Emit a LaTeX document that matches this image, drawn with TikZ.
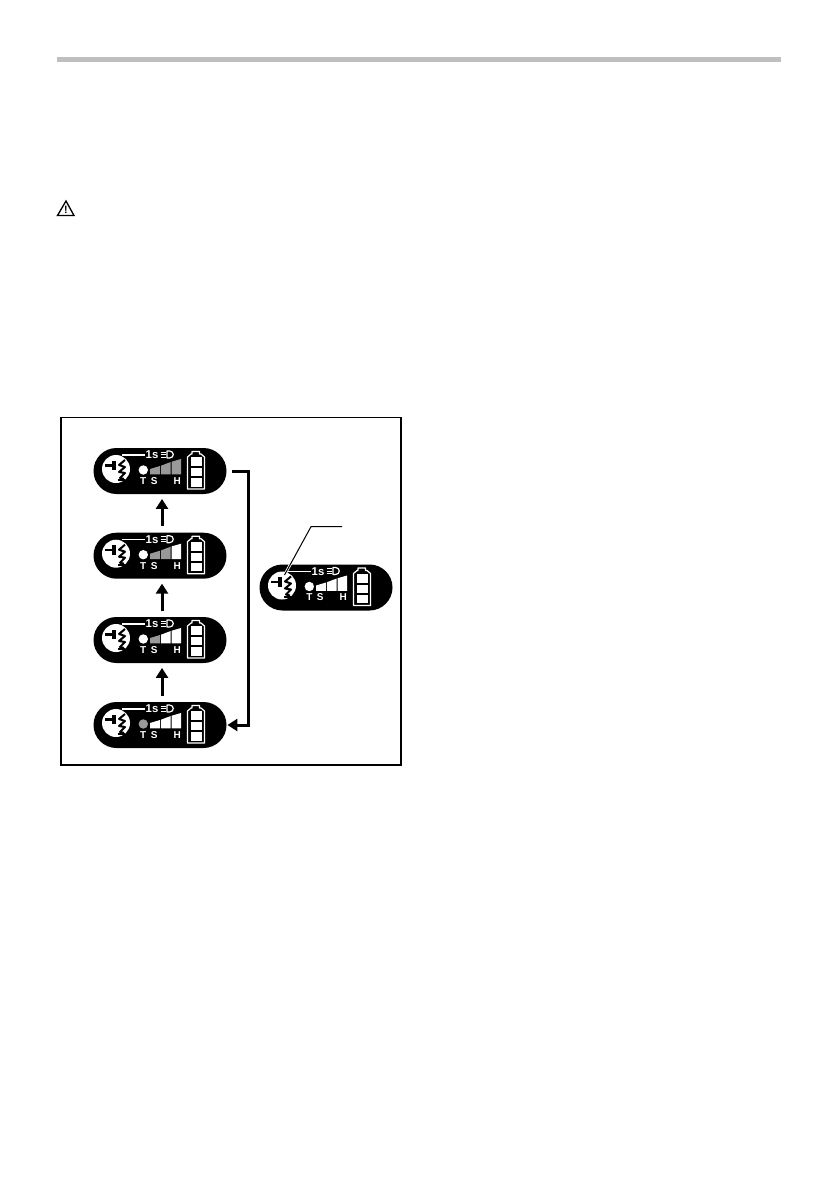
\documentclass[tikz,border=0pt]{standalone}
\usepackage{fontspec}
\setsansfont{Liberation Sans}
\usetikzlibrary{arrows.meta,shapes.misc}
\definecolor{ledgray}{gray}{0.6}
\tikzset{
  lamppill/.style={rounded rectangle,fill=black,draw=none,inner sep=0pt,minimum width=99.75pt,minimum height=34.5pt},
  tag/.style={text=white,inner sep=0pt,font=\sffamily\bfseries\fontsize{7.5}{8}\selectfont},
  flow/.style={line width=2.25pt,-{Triangle[width=9pt,length=7.5pt]}},
  wht/.style={draw=white,line width=0.9pt}
}
\begin{document}
\begin{tikzpicture}[x=0.75pt,y=-0.75pt]
    \useasboundingbox (0,0) rectangle (839,1191);
    \fill[white] (0,0) rectangle (839,1191);
    \fill[gray!50] (57,57) rectangle (781,62);
    % warning sign
    \draw[line width=1pt,line join=miter] (66,201) -- (74,215.5) -- (57.5,215.5) -- cycle;
    \node[inner sep=0pt,font=\sffamily\bfseries\fontsize{8}{8}\selectfont] (warn) at (65.8,210) {!};
    % frame
    \draw[line width=1.2pt] (61,417.5) rectangle (401,765);
    \def\pills{160/471/white/ledgray/ledgray/ledgray, 160/555.7/white/ledgray/ledgray/white,
               160/640/white/ledgray/white/white, 160/725/ledgray/white/white/white,
               326/587.5/white/white/white/white}
    \foreach \px/\py/\dotcol/\barA/\barB/\barC [count=\i from 1] in \pills {
      \node[lamppill] (p\i) at (\px,\py) {};
      \begin{scope}[shift={(\px,\py)}]
        % drill symbol
        \fill[white] (-44,-2) circle[radius=14];
        \fill[black] (-55,-7) rectangle (-47,-4.3);
        \fill[black] (-48,-10.3) rectangle (-44,-1);
        \draw[black,line width=1.5pt,line join=round] (-35,-11) -- (-41,-6) -- (-35,-4) -- (-41,1) -- (-35,2) -- (-40,7) -- (-36,8);
        \draw[black,line width=1.5pt] (-42,9) -- (-35,9);
        % speed bars
        \fill[\dotcol] (-16.7,-1) circle[radius=4.7];
        \fill[\barA] (-10,3.3) -- (-10,-2) -- (0,-5) -- (0,3.3) -- cycle;
        \fill[\barB] (1,3.3) -- (1,-5.3) -- (10.7,-9) -- (10.7,3.3) -- cycle;
        \fill[\barC] (11.7,3.3) -- (11.7,-9.3) -- (21,-12) -- (21,3.3) -- cycle;
        \node[tag] (t\i) at (-16.7,10) {T};
        \node[tag] (s\i) at (-5.7,10) {S};
        \node[tag] (h\i) at (17.3,10) {H};
        % time and light
        \draw[wht] (-38,-16) -- (-15,-16);
        \node[tag,font=\sffamily\bfseries\fontsize{8.5}{9}\selectfont] (one\i) at (-8,-16) {1s};
        \foreach \y in {-19,-16.5,-14} {\draw[wht,line width=0.7pt] (0.5,\y) -- (5.5,\y);}
        \draw[wht,line join=round] (7,-20) -- (9.5,-20) .. controls (14.5,-20) and (14.5,-13) .. (9.5,-13) -- (7,-13) -- cycle;
        % battery
        \draw[wht,line join=round] (27.5,18) -- (27.5,-14) -- (31,-17) -- (32,-17) -- (32,-19.5) -- (39.5,-19.5) -- (39.5,-17) -- (41,-17) -- (44.5,-14) -- (44.5,18) -- cycle;
        \fill[white] (30.5,-14) rectangle (41.5,-5);
        \fill[white] (30.5,-3) rectangle (41.5,5);
        \fill[white] (30.5,7) rectangle (41.5,15.5);
      \end{scope}
    }
    % connectors
    \draw[flow,shorten <=5pt,shorten >=3.5pt] ([xshift=1.5pt]p2.north) -- ([xshift=1.5pt]p1.south);
    \draw[flow,shorten <=4pt,shorten >=3.5pt] ([xshift=1.5pt]p3.north) -- ([xshift=1.5pt]p2.south);
    \draw[flow,shorten <=4pt,shorten >=3.5pt] ([xshift=1.5pt]p4.north) -- ([xshift=1.5pt]p3.south);
    \draw[flow,shorten <=4pt,shorten >=0.5pt] (p1.east) -- ++(22,0) |- (p4.east);
    \coordinate (leadfree) at (342,526.7);
    \coordinate (leadbend) at (311,526.7);
    \coordinate (leadend) at (284.5,575);
    \draw[white,line width=2pt] (leadbend) -- (leadend);
    \draw[line width=0.75pt] (leadfree) -- (leadbend) -- (leadend);
\end{tikzpicture}
\end{document}
